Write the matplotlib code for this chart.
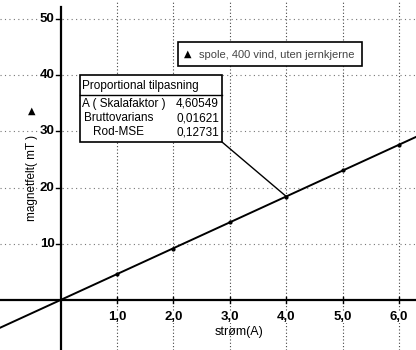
import matplotlib
matplotlib.use("Agg")
import matplotlib.pyplot as plt
from matplotlib.patches import Rectangle
import numpy as np

plt.rcParams['font.family'] = ['Liberation Sans', 'DejaVu Sans']

# data
current = [1.0, 2.0, 3.0, 4.0, 5.0, 6.0]
field = [4.7, 9.1, 13.85, 18.4, 23.05, 27.6]
scale_factor = 4.60549
xticks = [1.0, 2.0, 3.0, 4.0, 5.0, 6.0]
xtick_labels = ["1,0", "2,0", "3,0", "4,0", "5,0", "6,0"]
yticks = [10, 20, 30, 40, 50]
stats_names = ["A ( Skalafaktor )", "Bruttovarians", "Rod-MSE"]
stats_values = ["4,60549", "0,01621", "0,12731"]

W, H = 416, 350
fig = plt.figure(figsize=(W / 100, H / 100), dpi=100)
ax = fig.add_axes([0, 0, 1, 1])
xmin, xmax = -1.074, 6.30
ymin, ymax = -8.9, 53.38
ax.set_xlim(xmin, xmax)
ax.set_ylim(ymin, ymax)
for s in ax.spines.values():
    s.set_visible(False)
ax.set_xticks([])
ax.set_yticks([])

# grid
for xv in xticks:
    ax.plot([xv, xv], [ymin, ymax], color='#444444', lw=0.8, ls=(0, (1, 2)), zorder=1)
for yv in yticks:
    ax.plot([xmin, xmax], [yv, yv], color='#777777', lw=0.8, ls=(0, (1, 3)), zorder=1)

# axes lines
ax.plot([xmin, xmax], [0, 0], color='black', lw=1.6, zorder=3)
ax.plot([0, 0], [ymin, 52.2], color='black', lw=1.6, zorder=3)

# ticks
for xv, lab in zip(xticks, xtick_labels):
    ax.plot([xv, xv], [-0.6, 0.6], color='black', lw=1, zorder=3)
    ax.text(xv, -2.0, lab, ha='center', va='top', fontsize=9.5,
            fontweight='bold', zorder=4,
            bbox=dict(fc='white', ec='none', pad=0.2))
for yv in yticks:
    ax.plot([-0.08, 0.0], [yv, yv], color='black', lw=1, zorder=3)
    ax.text(-0.11, yv, str(yv), ha='right', va='center', fontsize=9.5,
            fontweight='bold', zorder=4,
            bbox=dict(fc='white', ec='none', pad=0.2))

# fit line
xs = np.array([xmin, xmax])
ax.plot(xs, scale_factor * xs, color='black', lw=1.4, zorder=5)
ax.plot(current, field, 'o', color='black', ms=2, zorder=6)

# axis labels
fig.text(239 / W, 1 - 332 / H, "strøm(A)", ha='center', va='center', fontsize=9)
fig.text(32 / W, 1 - 178 / H, "magnetfelt( mT )", rotation=90, ha='center',
         va='center', fontsize=8.5)
fig.text(32 / W, 1 - 111 / H, "▲", ha='center', va='center',
         fontsize=7, family=['DejaVu Sans'])

def px(x, y):
    return x / W, 1 - y / H

# legend box
lx0, ly0, lx1, ly1 = 178, 42, 362, 66
fig.patches.append(Rectangle(px(lx0, ly1), (lx1 - lx0) / W, (ly1 - ly0) / H,
                             transform=fig.transFigure, fc='white', ec='black', lw=1.2, zorder=10))
fig.text(*px(188, 54), "▲", ha='center', va='center', fontsize=7,
         family=['DejaVu Sans'], zorder=11)
fig.text(*px(199, 54.5), "spole, 400 vind, uten jernkjerne", ha='left', va='center',
         fontsize=8, color='#444444', zorder=11)

# stats box
bx0, by0, bx1, by1 = 80, 75, 222, 142
ax.annotate("", xy=(4.0, scale_factor * 4.0), xycoords='data',
            xytext=px(bx1, by1), textcoords='figure fraction',
            arrowprops=dict(arrowstyle='-', color='black', lw=1.0,
                            shrinkA=0, shrinkB=0), zorder=8)
fig.patches.append(Rectangle(px(bx0, by1), (bx1 - bx0) / W, (by1 - by0) / H,
                             transform=fig.transFigure, fc='white', ec='black', lw=1.2, zorder=10))
fig.lines.append(plt.Line2D([bx0 / W, bx1 / W], [1 - 95 / H, 1 - 95 / H],
                            transform=fig.transFigure, color='black', lw=1.0, zorder=11))
fig.text(*px(82, 86), "Proportional tilpasning", ha='left', va='center',
         fontsize=8.5, zorder=11)
row_y = [104, 118, 132]
name_x = [82, 119, 119]
for (nm, val, yy, nx) in zip(stats_names, stats_values, row_y, name_x):
    if nx == 82:
        fig.text(*px(nx, yy), nm, ha='left', va='center', fontsize=8.5, zorder=11)
    else:
        fig.text(*px(nx, yy), nm, ha='center', va='center', fontsize=8.5, zorder=11)
    fig.text(*px(219, yy), val, ha='right', va='center', fontsize=8.5, zorder=11)

fig.savefig("out.png", dpi=100)
